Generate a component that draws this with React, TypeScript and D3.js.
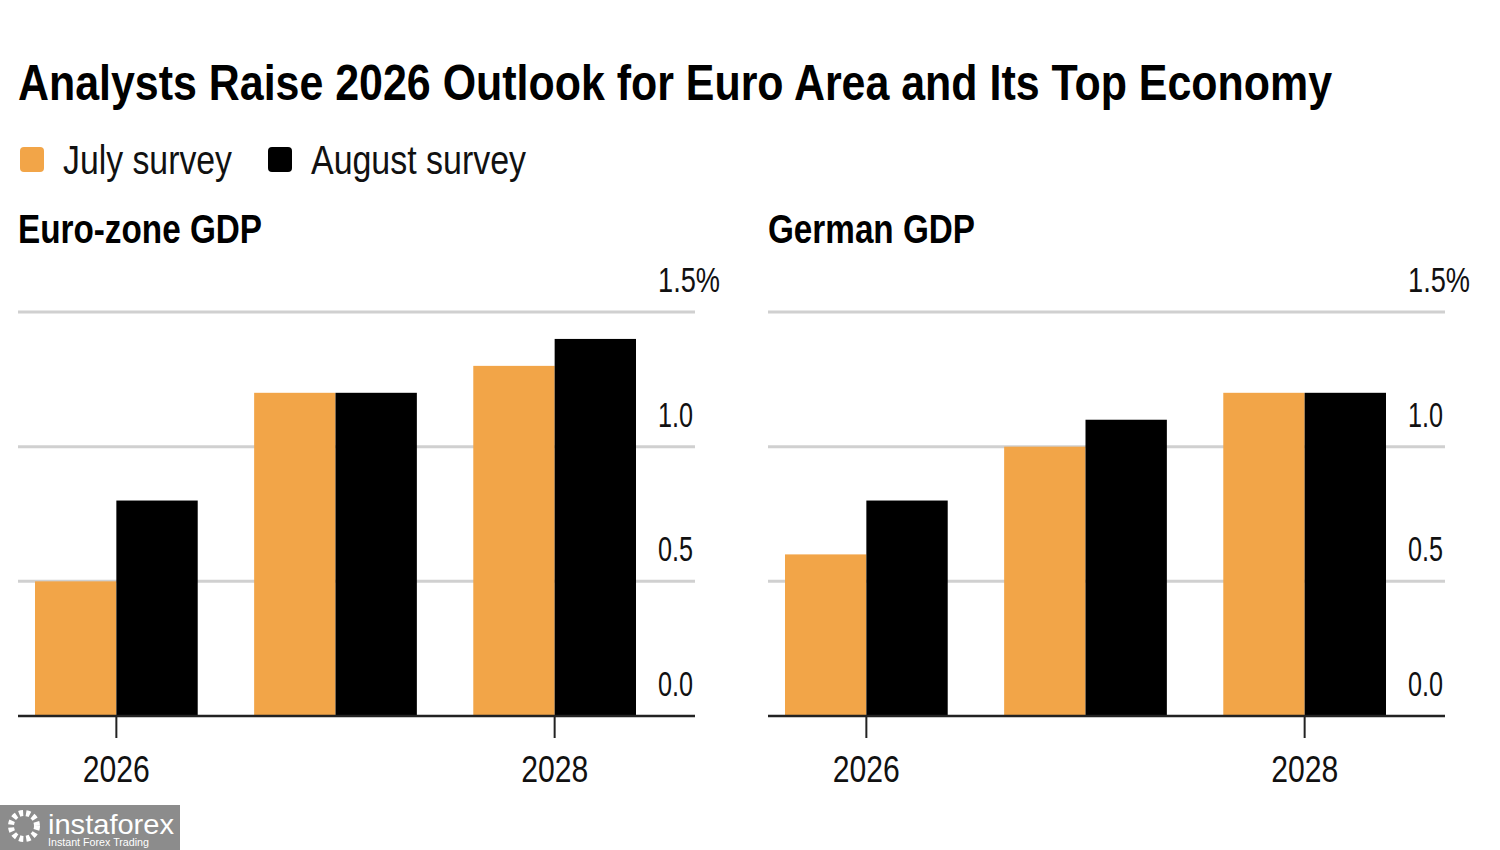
import React, { useEffect, useRef } from 'react';
import * as d3 from 'd3';

const years = ['2026', '2027', '2028'];
const surveys = ['July survey', 'August survey'];
const surveyColors = ['#f2a548', '#000000'];
const euroJuly = [0.5, 1.2, 1.3];
const euroAugust = [0.8, 1.2, 1.4];
const germanJuly = [0.6, 1.0, 1.2];
const germanAugust = [0.8, 1.1, 1.2];
const yTicks = [0, 0.5, 1.0, 1.5];
const labeledYears = ['2026', '2028'];

const panels = [
  { title: 'Euro-zone GDP', july: euroJuly, august: euroAugust, left: 18 },
  { title: 'German GDP', july: germanJuly, august: germanAugust, left: 768 },
];

const FONT = '"Liberation Sans Narrow", "Arial Narrow", "Liberation Sans", Arial, sans-serif';

const App: React.FC = () => {
  const ref = useRef<SVGSVGElement | null>(null);

  useEffect(() => {
    document.body.style.margin = '0';
    if (!ref.current) return;
    const svg = d3.select(ref.current);
    svg.selectAll('*').remove();

    const width = 1500;
    const height = 850;
    svg.append('rect').attr('width', width).attr('height', height).attr('fill', '#fff');

    // title
    svg.append('text')
      .attr('x', 18).attr('y', 100)
      .attr('font-family', FONT).attr('font-weight', 'bold').attr('font-size', 50)
      .attr('textLength', 1314).attr('lengthAdjust', 'spacingAndGlyphs')
      .attr('fill', '#000')
      .text('Analysts Raise 2026 Outlook for Euro Area and Its Top Economy');

    // legend
    const legendX = [20, 268];
    const legendW = [169, 215];
    surveys.forEach((s, i) => {
      svg.append('rect')
        .attr('x', legendX[i]).attr('y', 147).attr('width', 24).attr('height', 25)
        .attr('rx', 4).attr('fill', surveyColors[i]);
      svg.append('text')
        .attr('x', legendX[i] + 43).attr('y', 174)
        .attr('font-family', FONT).attr('font-size', 40)
        .attr('textLength', legendW[i]).attr('lengthAdjust', 'spacingAndGlyphs')
        .attr('fill', '#111')
        .text(s);
    });

    const y = d3.scaleLinear().domain([0, 1.5]).range([716, 312]);

    panels.forEach((p) => {
      const g = svg.append('g').attr('transform', `translate(${p.left},0)`);
      const innerW = 677;

      g.append('text')
        .attr('x', 0).attr('y', 243)
        .attr('font-family', FONT).attr('font-weight', 'bold').attr('font-size', 40)
        .attr('textLength', p.title === 'Euro-zone GDP' ? 244 : 207).attr('lengthAdjust', 'spacingAndGlyphs')
        .attr('fill', '#000')
        .text(p.title);

      // gridlines
      g.selectAll('.grid')
        .data(yTicks.filter(t => t > 0))
        .enter().append('line')
        .attr('x1', 0).attr('x2', innerW)
        .attr('y1', d => y(d)).attr('y2', d => y(d))
        .attr('stroke', '#d0d0d0').attr('stroke-width', 3);

      const x0 = d3.scaleBand<string>().domain(years).range([17, 618]).paddingInner(0.2575).paddingOuter(0);
      const x1 = d3.scaleBand<string>().domain(surveys).range([0, x0.bandwidth()]);
      const series = [p.july, p.august];

      years.forEach((yr, yi) => {
        const grp = g.append('g').attr('transform', `translate(${x0(yr)},0)`);
        grp.selectAll('rect')
          .data(surveys.map((s, si) => ({ s, v: series[si][yi], c: surveyColors[si] })))
          .enter().append('rect')
          .attr('x', d => x1(d.s)!)
          .attr('y', d => y(d.v))
          .attr('width', x1.bandwidth())
          .attr('height', d => y(0) - y(d.v))
          .attr('fill', d => d.c);
      });

      // baseline
      g.append('line')
        .attr('x1', 0).attr('x2', innerW)
        .attr('y1', y(0)).attr('y2', y(0))
        .attr('stroke', '#222').attr('stroke-width', 2.5);

      // x ticks
      labeledYears.forEach((yr) => {
        const cx = x0(yr)! + x0.bandwidth() / 2;
        g.append('line')
          .attr('x1', cx).attr('x2', cx).attr('y1', y(0)).attr('y2', y(0) + 22)
          .attr('stroke', '#222').attr('stroke-width', 2);
        g.append('text')
          .attr('x', cx).attr('y', 782)
          .attr('text-anchor', 'middle')
          .attr('font-family', FONT).attr('font-size', 37)
          .attr('textLength', 67).attr('lengthAdjust', 'spacingAndGlyphs')
          .attr('fill', '#111')
          .text(yr);
      });

      // y labels (number right edge at 675; the % of the top label hangs past it)
      yTicks.forEach((t) => {
        const isTop = t === yTicks[yTicks.length - 1];
        g.append('text')
          .attr('x', 640).attr('y', y(t) - 20)
          .attr('font-family', FONT).attr('font-size', 35)
          .attr('textLength', isTop ? 62 : 35).attr('lengthAdjust', 'spacingAndGlyphs')
          .attr('fill', '#111')
          .text(t.toFixed(1) + (isTop ? '%' : ''));
      });
    });

    // watermark
    const wm = svg.append('g');
    wm.append('rect').attr('x', 0).attr('y', 805).attr('width', 180).attr('height', 45).attr('fill', '#8c8c8c');
    wm.append('circle').attr('cx', 24).attr('cy', 826).attr('r', 13).attr('fill', 'none')
      .attr('stroke', '#fff').attr('stroke-width', 6).attr('stroke-dasharray', '4 3');
    wm.append('text').attr('x', 48).attr('y', 834)
      .attr('font-family', '"Liberation Sans", Arial, sans-serif').attr('font-size', 28)
      .attr('fill', '#fff').attr('textLength', 126).attr('lengthAdjust', 'spacingAndGlyphs')
      .text('instaforex');
    wm.append('text').attr('x', 48).attr('y', 846)
      .attr('font-family', '"Liberation Sans", Arial, sans-serif').attr('font-size', 10)
      .attr('fill', '#fff').attr('textLength', 101).attr('lengthAdjust', 'spacingAndGlyphs')
      .text('Instant Forex Trading');
  }, []);

  return <svg ref={ref} width={1500} height={850} style={{ display: 'block' }} />;
};

export default App;
